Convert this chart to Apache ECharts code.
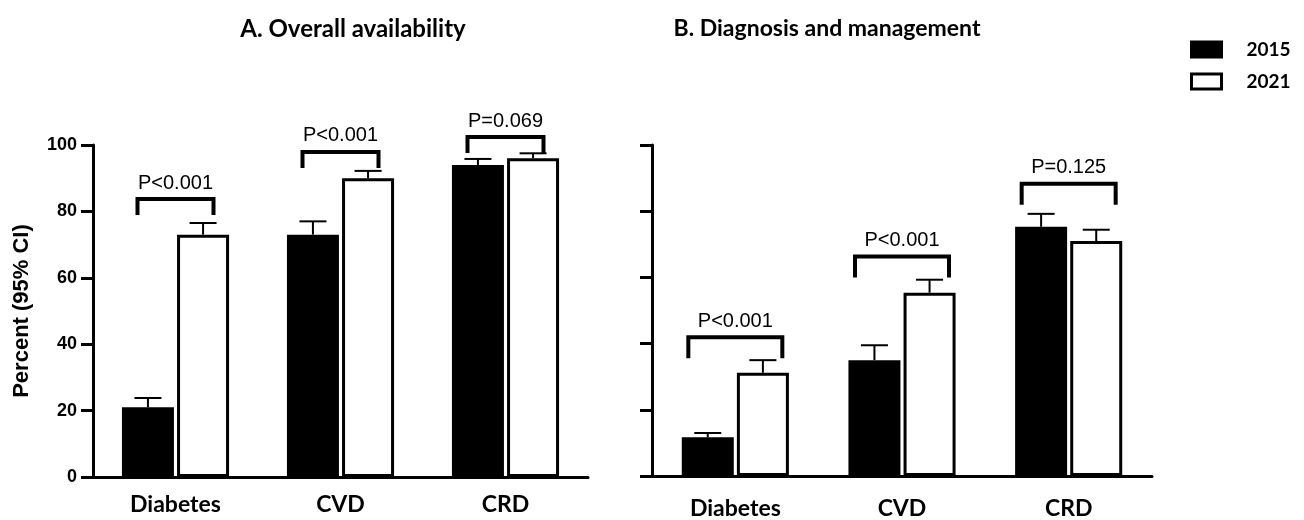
<!DOCTYPE html>
<html><head><meta charset="utf-8">
<script src="https://cdn.jsdelivr.net/npm/echarts@6/dist/echarts.min.js"></script>
<style>html,body{margin:0;padding:0;background:#fff}#c{width:1304px;height:520px}</style>
</head><body><div id="c"></div>
<script>
// ---- data ----
const categories = ['Diabetes', 'CVD', 'CRD'];
const years = ['2015', '2021'];
const panelTitles = ['A. Overall availability', 'B. Diagnosis and management'];
const yAxisName = 'Percent (95% CI)';
const yMin = 0, yMax = 100, yStep = 20;

// Panel A: Overall availability
const a2015 = [21, 73, 94];
const a2021 = [73, 90, 96];
const a2015Upper = [23.8, 77, 95.8];
const a2021Upper = [76.5, 92.2, 97.5];
const aPLabels = ['P<0.001', 'P<0.001', 'P=0.069'];
const aBracketLevel = [83.7, 97.9, 102.4];

// Panel B: Diagnosis and management
const b2015 = [11.7, 35, 75.3];
const b2021 = [31.2, 55.4, 71];
const b2015Upper = [13, 39.5, 79.2];
const b2021Upper = [35, 59.3, 74.4];
const bPLabels = ['P<0.001', 'P<0.001', 'P=0.125'];
const bBracketLevel = [41.9, 66.3, 88.3];

// ---- style ----
const BAR_W = 52, BAR_GAP = 0.06;
const BAR_OFF = (BAR_W * (1 + BAR_GAP)) / 2;
const CAP = 27;
const BOLD_UI = 'Lato';
const ARIAL = '"Liberation Sans", Arial, sans-serif';

const chart = echarts.init(document.getElementById('c'), null, {renderer: 'canvas'});

function errData(lo, hi, yi) {
  return lo.map((v, i) => [i, yi, hi[i], v]);
}
function errSeries(gi, lo, hi, yi) {
  return {
    type: 'custom', xAxisIndex: gi, yAxisIndex: gi, z: 5, silent: true,
    data: errData(lo, hi, yi),
    renderItem: function (params, api) {
      const ci = api.value(0), y = api.value(1);
      const base = api.coord([ci, api.value(3)]);
      const top = api.coord([ci, api.value(2)]);
      const x = base[0] + (y === 0 ? -1 : 1) * BAR_OFF;
      return {type: 'group', children: [
        {type: 'line', shape: {x1: x, y1: base[1], x2: x, y2: top[1]}, style: {stroke: '#000', lineWidth: 2}},
        {type: 'line', shape: {x1: x - CAP / 2, y1: top[1], x2: x + CAP / 2, y2: top[1]}, style: {stroke: '#000', lineWidth: 2}}
      ]};
    }
  };
}
function bracketSeries(gi, levels, labels, halfW, leg) {
  return {
    type: 'custom', xAxisIndex: gi, yAxisIndex: gi, z: 6, silent: true, clip: false,
    data: levels.map((v, i) => [i, v]),
    renderItem: function (params, api) {
      const i = params.dataIndex;
      const p = api.coord([api.value(0), api.value(1)]);
      const x1 = p[0] - halfW, x2 = p[0] + halfW, y = p[1];
      return {type: 'group', children: [
        {type: 'polyline', shape: {points: [[x1, y + leg], [x1, y], [x2, y], [x2, y + leg]]},
          style: {stroke: '#000', lineWidth: 4, fill: null, lineJoin: 'miter'}},
        {type: 'text', x: p[0], y: y - 16,
          style: {text: labels[i], textAlign: 'center', textVerticalAlign: 'middle',
            font: '20px ' + ARIAL, fill: '#000'}}
      ]};
    }
  };
}
function barSeries(gi, name, data, fill) {
  return {
    type: 'bar', name: name, xAxisIndex: gi, yAxisIndex: gi, data: data,
    barWidth: BAR_W, barGap: (BAR_GAP * 100) + '%',
    itemStyle: {color: fill, borderColor: '#000', borderWidth: 3},
    emphasis: {disabled: true}
  };
}

const axisLineStyle = {lineStyle: {color: '#000', width: 3}};
function xAxis(gi, margin) {
  return {
    type: 'category', gridIndex: gi, data: categories,
    axisLine: axisLineStyle,
    axisTick: {alignWithLabel: true, length: 11, lineStyle: {color: '#000', width: 3}},
    axisLabel: {color: '#000', fontFamily: BOLD_UI, fontWeight: 'bold', fontSize: 23, margin: margin}
  };
}
function yAxis(gi, showLabels) {
  return {
    type: 'value', gridIndex: gi, min: yMin, max: yMax, interval: yStep,
    name: showLabels ? yAxisName : '', nameLocation: 'middle', nameGap: 60,
    nameTextStyle: {color: '#000', fontFamily: ARIAL, fontWeight: 'bold', fontSize: 22},
    axisLine: {show: true, lineStyle: {color: '#000', width: 3}},
    axisTick: {show: true, length: 12, lineStyle: {color: '#000', width: 3}},
    splitLine: {show: false},
    axisLabel: {show: showLabels, color: '#000', fontFamily: ARIAL, fontWeight: 'bold', fontSize: 18, margin: 16}
  };
}

const option = {
  animation: false,
  backgroundColor: '#fff',
  title: [
    {text: panelTitles[0], left: 348, top: 12, textAlign: 'center',
      textStyle: {fontFamily: BOLD_UI, fontWeight: 'bold', fontSize: 24, color: '#000'}},
    {text: panelTitles[1], left: 822, top: 12, textAlign: 'center',
      textStyle: {fontFamily: BOLD_UI, fontWeight: 'bold', fontSize: 23, color: '#000'}}
  ],
  legend: {
    orient: 'vertical', left: 1190, top: 40, padding: 0, itemWidth: 30, itemHeight: 15, itemGap: 13,
    icon: 'rect',
    data: years, selectedMode: false,
    itemStyle: {borderWidth: 3, borderColor: '#000'},
    textStyle: {fontFamily: BOLD_UI, fontWeight: 'bold', fontSize: 19, color: '#000', padding: [0, 0, 0, 20]}
  },
  grid: [
    {left: 93, top: 145, width: 495, height: 332},
    {left: 652, top: 145, width: 500, height: 332}
  ],
  xAxis: [xAxis(0, 16), xAxis(1, 21)],
  yAxis: [yAxis(0, true), yAxis(1, false)],
  series: [
    barSeries(0, years[0], a2015, '#000'),
    barSeries(0, years[1], a2021, '#fff'),
    barSeries(1, years[0], b2015, '#000'),
    barSeries(1, years[1], b2021, '#fff'),
    errSeries(0, a2015, a2015Upper, 0),
    errSeries(0, a2021, a2021Upper, 1),
    errSeries(1, b2015, b2015Upper, 0),
    errSeries(1, b2021, b2021Upper, 1),
    bracketSeries(0, aBracketLevel, aPLabels, 38, 16),
    bracketSeries(1, bBracketLevel, bPLabels, 47, 21)
  ]
};
chart.setOption(option);
</script>
</body></html>
